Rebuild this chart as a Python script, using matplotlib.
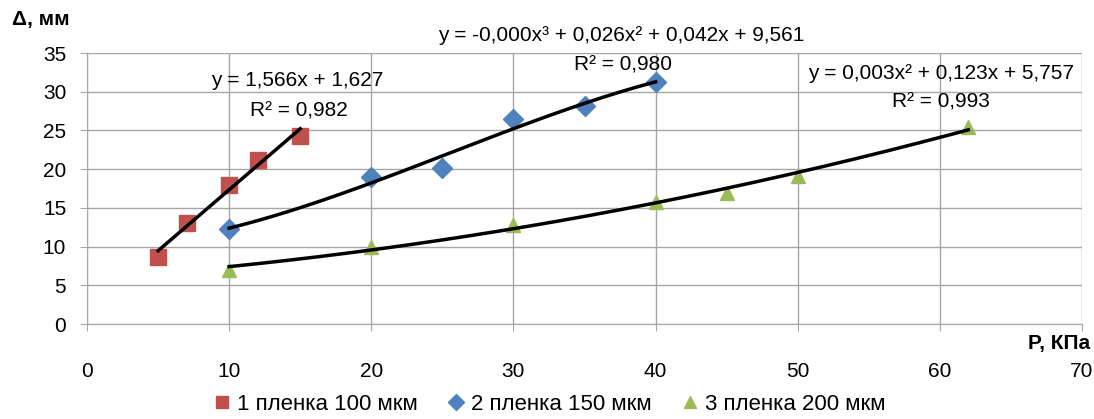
import numpy as np
import matplotlib.pyplot as plt

plt.rcParams['font.family'] = ['Liberation Sans', 'DejaVu Sans']

# measured points
p1 = [5, 7, 10, 12, 15]
d1 = [8.6, 13.0, 18.0, 21.2, 24.3]
p2 = [10, 20, 25, 30, 35, 40]
d2 = [12.3, 19.0, 20.1, 26.5, 28.1, 31.3]
p3 = [10, 20, 30, 40, 45, 50, 62]
d3 = [7.0, 10.0, 12.8, 15.8, 16.9, 19.1, 25.5]

labels = ["1 пленка 100 мкм", "2 пленка 150 мкм", "3 пленка 200 мкм"]
colors = ["#C0504D", "#4F81BD", "#9BBB59"]
markers = ["s", "D", "^"]
sizes = [11, 10, 10]
degrees = [1, 3, 2]
equations = [
    ("y = 1,566x + 1,627", "R² = 0,982", (14.8, 31.5), (14.9, 27.5)),
    ("y = -0,000x³ + 0,026x² + 0,042x + 9,561", "R² = 0,980", (37.6, 37.3), (37.7, 33.5)),
    ("y = 0,003x² + 0,123x + 5,757", "R² = 0,993", (60.1, 32.4), (60.1, 28.7)),
]

fig = plt.figure(figsize=(10.94, 4.19), dpi=100)
ax = fig.add_axes([87 / 1094, 95 / 419, 995 / 1094, 271 / 419])

for x, y, lab, c, m, s in zip([p1, p2, p3], [d1, d2, d3], labels, colors, markers, sizes):
    ax.plot(x, y, linestyle="none", marker=m, color=c, markersize=s, label=lab, zorder=3)

# polynomial trendlines
for x, y, deg in zip([p1, p2, p3], [d1, d2, d3], degrees):
    coef = np.polyfit(x, y, deg)
    xs = np.linspace(min(x), max(x), 200)
    ax.plot(xs, np.polyval(coef, xs), color="black", linewidth=2.5, zorder=4)

for eq, r2, pos_eq, pos_r2 in equations:
    ax.text(pos_eq[0], pos_eq[1], eq, ha="center", va="center", fontsize=15, clip_on=False, zorder=5)
    ax.text(pos_r2[0], pos_r2[1], r2, ha="center", va="center", fontsize=15, clip_on=False, zorder=5)

ax.set_xlim(0, 70)
ax.set_ylim(0, 35)
ax.set_xticks(range(0, 71, 10))
ax.set_yticks(range(0, 36, 5))
ax.grid(True, color="#A6A6A6", linewidth=1)
ax.set_axisbelow(True)
for side in ["top", "right"]:
    ax.spines[side].set_visible(False)
for side in ["left", "bottom"]:
    ax.spines[side].set_color("#A6A6A6")
ax.tick_params(axis="both", colors="#A6A6A6", labelcolor="black", labelsize=15, length=5)
ax.tick_params(axis="x", pad=22)
ax.tick_params(axis="y", pad=10)

fig.text(12 / 1094, 1 - 20 / 419, "Δ, мм", fontsize=15, fontweight="bold", va="center", ha="left")
fig.text(1090 / 1094, 1 - 343 / 419, "P, КПа", fontsize=15, fontweight="bold", va="center", ha="right")

fig.legend(*ax.get_legend_handles_labels(), loc="center", bbox_to_anchor=(548 / 1094, 1 - 404 / 419),
           ncol=3, frameon=False, fontsize=16, handletextpad=0.2, columnspacing=1.2,
           handlelength=1.0, markerscale=0.8, borderpad=0)

fig.savefig("out.png", dpi=100)
